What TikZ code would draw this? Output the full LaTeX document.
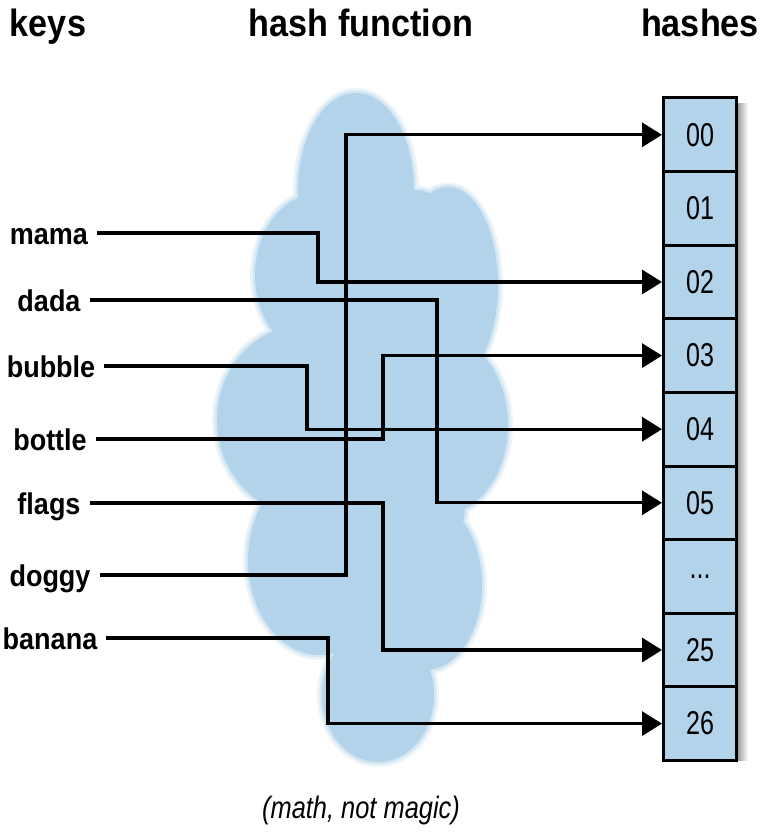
\documentclass[tikz,border=0pt]{standalone}
\usepackage{fontspec}
\setmainfont{Liberation Sans}
\newfontfamily\keyfont{Liberation Sans}[FakeStretch=0.9]
\newfontfamily\slotfont{Liberation Sans}[FakeStretch=0.76]
\newfontfamily\notefont{Liberation Sans}[FakeStretch=0.82]
\usetikzlibrary{arrows.meta,positioning}
\definecolor{cloudblue}{RGB}{178,211,233}

\begin{document}
\begin{tikzpicture}[
        x=1pt,y=-1pt,
        heading/.style={font=\keyfont\bfseries\fontsize{38}{38}\selectfont,inner sep=0pt,anchor=base},
        word/.style={font=\keyfont\bfseries\fontsize{30}{30}\selectfont,text height=22pt,text depth=0pt,inner ysep=0pt,inner xsep=9pt},
        slot/.style={draw,line width=3pt,fill=cloudblue,minimum width=73pt,minimum height=73.6pt,outer sep=0pt,inner sep=0pt,font=\slotfont\fontsize{33}{33}\selectfont},
        link/.style={line width=3.2pt,-{Triangle[length=20pt,width=24pt]},shorten >=1.5pt},
        % note/.style={font=\notefont\itshape},
        ]
    \useasboundingbox (0,0) rectangle (763,834);

    % the cloud: lobes, with a soft rim
    \foreach \grow/\tint in {5/25,2.5/55,0/100}
        \foreach \cx/\cy/\rx/\ry in {356/190/58/97, 448/285/50/98, 415/255/45/65,
                                     440/425/68/90, 425/585/57/85, 378/695/56/67,
                                     320/560/72/95, 305/420/88/95, 320/275/65/82,
                                     380/430/90/240}
            \fill[cloudblue!\tint] (\cx,\cy) ellipse [x radius=\rx pt+\grow pt, y radius=\ry pt+\grow pt];

    \node[heading] (keys) at (48,37) {keys};
    \node[heading] (hashfn) at (361,37) {hash function};
    \node[heading] (hashes) at (700,37) {hashes};

    % hash slots
    \shade[left color=black!40,right color=white] (737,104) rectangle (748,760);
    \node[slot] (h00) at (700,134.8) {00};
    \node[slot,below=0pt of h00] (h01) {01};
    \node[slot,below=0pt of h01] (h02) {02};
    \node[slot,below=0pt of h02] (h03) {03};
    \node[slot,below=0pt of h03] (h04) {04};
    \node[slot,below=0pt of h04] (h05) {05};
    \node[slot,below=0pt of h05] (hdots) {...};
    \node[slot,below=0pt of hdots] (h25) {25};
    \node[slot,below=0pt of h25] (h26) {26};

    % keys
    \node[word] (mama) at (49,233) {mama};
    \node[word] (dada) at (49,300) {dada};
    \node[word] (bubble) at (51,366) {bubble};
    \node[word] (bottle) at (50,439) {bottle};
    \node[word] (flags) at (49,503) {flags};
    \node[word] (doggy) at (50,575) {doggy};
    \node[word] (banana) at (50,638) {banana};

    \draw[link] (mama.east) -| (318,0 |- h02.west) -- (h02.west);
    \draw[link] (dada.east) -| (437,0 |- h05.west) -- (h05.west);
    \draw[link] (bubble.east) -| (307,0 |- h04.west) -- (h04.west);
    \draw[link] (bottle.east) -| (383,0 |- h03.west) -- (h03.west);
    \draw[link] (flags.east) -| (383,0 |- h25.west) -- (h25.west);
    \draw[link] (doggy.east) -| (346,0 |- h00.west) -- (h00.west);
    \draw[link] (banana.east) -| (328,0 |- h26.west) -- (h26.west);

    \node[font=\notefont\itshape\fontsize{31}{31}\selectfont,anchor=base] (note) at (361,818) {(math, not magic)};
\end{tikzpicture}
\end{document}
